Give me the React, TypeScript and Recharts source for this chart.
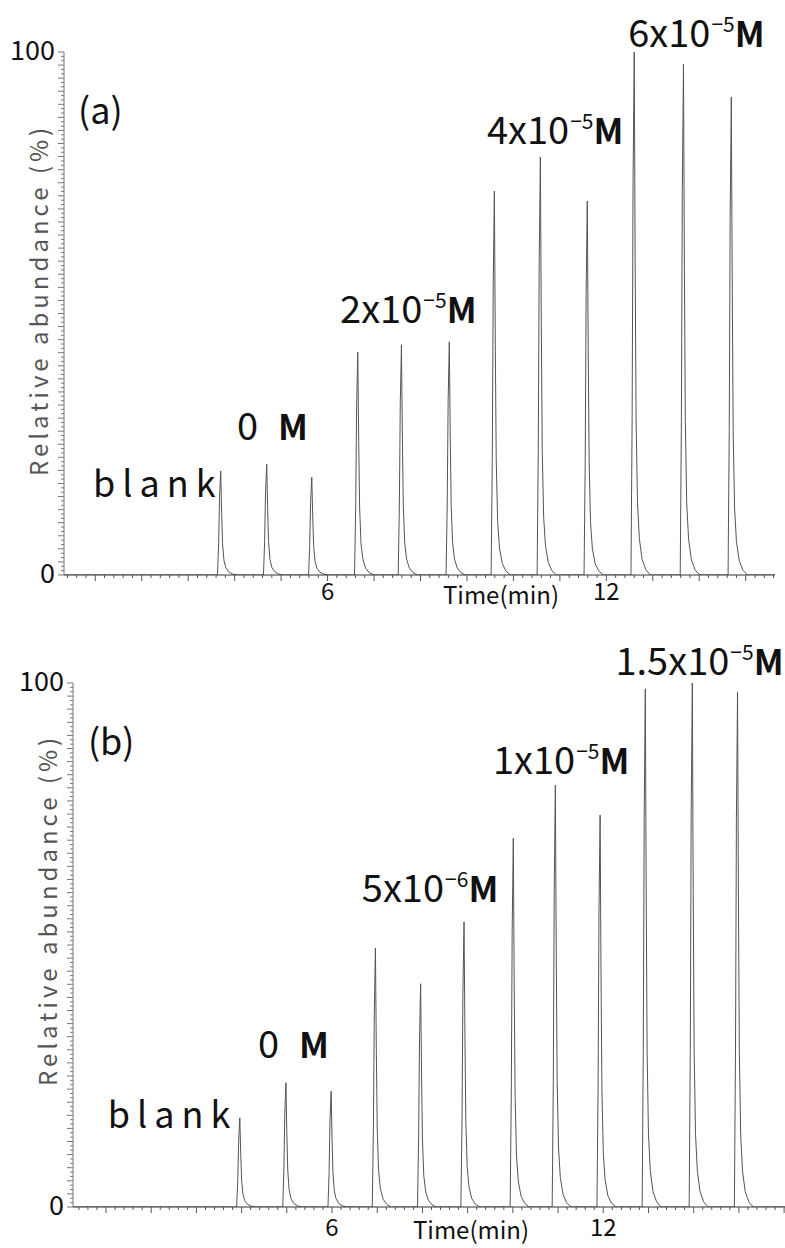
import React from 'react';
import { LineChart, Line, XAxis, YAxis, ReferenceDot, Label } from 'recharts';

// retention time (min) and relative abundance (%) of each injection peak
const peakTimesA = [3.7, 4.69, 5.66, 6.65, 7.59, 8.62, 9.59, 10.58, 11.59, 12.6, 13.66, 14.69];
const peakHeightsA = [19.9, 21.2, 18.7, 42.6, 44.0, 44.6, 73.4, 79.9, 71.5, 100, 97.7, 91.4];

const peakTimesB = [3.96, 4.98, 5.98, 6.96, 7.96, 8.92, 10.01, 10.94, 11.93, 12.93, 13.97, 14.97];
const peakHeightsB = [17.0, 23.7, 22.1, 49.4, 42.6, 54.4, 70.4, 80.5, 74.8, 98.9, 100, 98.3];

// peak profile: offset from apex (min) and fraction of apex height
const shapeOffsets = [-0.07, -0.045, -0.025, 0, 0.02, 0.04, 0.07, 0.11, 0.17, 0.25, 0.35];
const shapeFractions = [0, 0.3, 0.75, 1, 0.6, 0.3, 0.14, 0.07, 0.03, 0.01, 0];

const xLabelled = [6, 12];
const yLabelled = [0, 100];

const labelsA = [
  { t: 0.95, v: 14.9, text: 'blank' },
  { t: 4.05, v: 25.8, text: '0', unit: 'M' },
  { t: 6.27, v: 48.2, text: '2x10', sup: '−5', unit: 'M' },
  { t: 9.43, v: 82.4, text: '4x10', sup: '−5', unit: 'M' },
  { t: 12.47, v: 101.0, text: '6x10', sup: '−5', unit: 'M' },
];

const labelsB = [
  { t: 1.04, v: 15.1, text: 'blank' },
  { t: 4.36, v: 28.4, text: '0', unit: 'M' },
  { t: 6.66, v: 58.2, text: '5x10', sup: '−6', unit: 'M' },
  { t: 9.56, v: 82.6, text: '1x10', sup: '−5', unit: 'M' },
  { t: 12.27, v: 101.5, text: '1.5x10', sup: '−5', unit: 'M' },
];

const FONT = '"Noto Sans CJK JP", "Noto Sans", sans-serif';

function buildTrace(times: number[], heights: number[], start: number, end: number) {
  const pts: { t: number; v: number }[] = [{ t: start, v: 0 }];
  times.forEach((t0, i) => {
    shapeOffsets.forEach((dt, j) => {
      pts.push({ t: +(t0 + dt).toFixed(3), v: heights[i] * shapeFractions[j] });
    });
  });
  pts.push({ t: end, v: 0 });
  return pts;
}

function PeakLabel({ cx, cy, item }: any) {
  if (!item.unit) {
    return (
      <text x={cx} y={cy} fontFamily={FONT} fontSize={36} letterSpacing={7} fill="#111">
        {item.text}
      </text>
    );
  }
  return (
    <text x={cx} y={cy} fontFamily={FONT} fill="#111">
      <tspan fontSize={38}>{item.text}</tspan>
      {item.sup && (
        <tspan fontSize={21} dy={-15} dx={1}>
          {item.sup}
        </tspan>
      )}
      <tspan fontSize={35} fontWeight="bold" dy={item.sup ? 15 : 0} dx={item.sup ? 0 : 20}>
        {item.unit}
      </tspan>
    </text>
  );
}

type PanelProps = {
  data: { t: number; v: number }[];
  domain: [number, number];
  margin: { top: number; left: number; right: number; bottom: number };
  labels: any[];
  tag: string;
  tagPos: { t: number; v: number };
  xLabelDy: number;
  timeDx: number;
  timeDy: number;
  titleDx: number;
  titleFrac: number;
};

function Panel(p: PanelProps) {
  const xTicks: number[] = [];
  for (let i = Math.ceil(p.domain[0] * 5); i <= Math.floor(p.domain[1] * 5); i++) xTicks.push(i / 5);
  const yTicks: number[] = [];
  for (let i = 0; i <= 120; i++) yTicks.push((i * 100) / 120);

  const XTick = ({ x, y, payload }: any) => {
    const v = payload.value;
    const major = Math.abs(v - Math.round(v)) < 1e-6;
    const lab = xLabelled.find((l) => Math.abs(l - v) < 1e-6);
    return (
      <g>
        <line x1={x} x2={x} y1={y} y2={y + (major ? 6 : 3)} stroke="#555" />
        {lab !== undefined && (
          <text x={x} y={y + p.xLabelDy} textAnchor="middle" fontFamily={FONT} fontSize={24} fill="#111">
            {lab}
          </text>
        )}
      </g>
    );
  };

  const YTick = ({ x, y, payload, index }: any) => {
    const v = payload.value;
    const major = index % 3 === 0;
    const lab = yLabelled.find((l) => Math.abs(l - v) < 1e-6);
    return (
      <g>
        <line x1={x} x2={x - (major ? 6 : 3)} y1={y} y2={y} stroke="#777" />
        {lab !== undefined && (
          <text x={x - 9} y={y + 8} textAnchor="end" fontFamily={FONT} fontSize={27} fill="#111">
            {lab}
          </text>
        )}
      </g>
    );
  };

  return (
    <LineChart width={785} height={624} data={p.data} margin={p.margin}>
      <XAxis
        type="number"
        dataKey="t"
        domain={p.domain}
        allowDataOverflow
        ticks={xTicks}
        interval={0}
        height={30}
        tickSize={0}
        tickMargin={0}
        tickLine={false}
        tick={XTick}
        stroke="#333"
      >
        <Label
          content={({ viewBox }: any) => (
            <text
              x={viewBox.x + p.timeDx}
              y={viewBox.y + p.timeDy}
              textAnchor="middle"
              fontFamily={FONT}
              fontSize={24}
              fill="#111"
            >
              Time(min)
            </text>
          )}
        />
      </XAxis>
      <YAxis
        type="number"
        domain={[0, 100]}
        allowDataOverflow
        ticks={yTicks}
        interval={0}
        width={20}
        tickSize={0}
        tickMargin={0}
        tickLine={false}
        tick={YTick}
        stroke="#777"
      >
        <Label
          content={({ viewBox }: any) => {
            const cx = viewBox.x + viewBox.width + p.titleDx;
            const cy = viewBox.y + viewBox.height * p.titleFrac;
            return (
              <text
                x={cx}
                y={cy}
                transform={`rotate(-90 ${cx} ${cy})`}
                textAnchor="middle"
                dominantBaseline="central"
                fontFamily={FONT}
                fontSize={24}
                letterSpacing={4}
                fill="#555"
              >
                Relative abundance (%)
              </text>
            );
          }}
        />
      </YAxis>
      <Line
        type="linear"
        dataKey="v"
        stroke="#555"
        strokeWidth={1}
        dot={false}
        isAnimationActive={false}
      />
      <ReferenceDot
        x={p.tagPos.t}
        y={p.tagPos.v}
        r={0}
        ifOverflow="visible"
        shape={(s: any) => (
          <text x={s.cx} y={s.cy} fontFamily={FONT} fontSize={36} fill="#111">
            {p.tag}
          </text>
        )}
      />
      {p.labels.map((item, i) => (
        <ReferenceDot
          key={i}
          x={item.t}
          y={item.v}
          r={0}
          ifOverflow="visible"
          shape={(s: any) => <PeakLabel cx={s.cx} cy={s.cy} item={item} />}
        />
      ))}
    </LineChart>
  );
}

const domainA: [number, number] = [0.327, 15.63];
const domainB: [number, number] = [0.27, 16.02];

const traceA = buildTrace(peakTimesA, peakHeightsA, domainA[0], domainA[1]);
const traceB = buildTrace(peakTimesB, peakHeightsB, domainB[0], domainB[1]);

export default function App() {
  return (
    <div style={{ position: 'absolute', left: 0, top: 0, width: 785, height: 1248, background: '#fff' }}>
      <div style={{ position: 'absolute', left: 0, top: 0 }}>
        <Panel
          data={traceA}
          domain={domainA}
          margin={{ top: 52, left: 44, right: 10, bottom: 19 }}
          labels={labelsA}
          tag="(a)"
          tagPos={{ t: 0.63, v: 86.2 }}
          xLabelDy={25}
          timeDx={437}
          timeDy={29}
          titleDx={-26}
          titleFrac={0.474}
        />
      </div>
      <div style={{ position: 'absolute', left: 0, top: 624 }}>
        <Panel
          data={traceB}
          domain={domainB}
          margin={{ top: 59, left: 53, right: 0, bottom: 11 }}
          labels={labelsB}
          tag="(b)"
          tagPos={{ t: 0.6, v: 86.3 }}
          xLabelDy={29}
          timeDx={398}
          timeDy={32}
          titleDx={-26}
          titleFrac={0.433}
        />
      </div>
    </div>
  );
}
